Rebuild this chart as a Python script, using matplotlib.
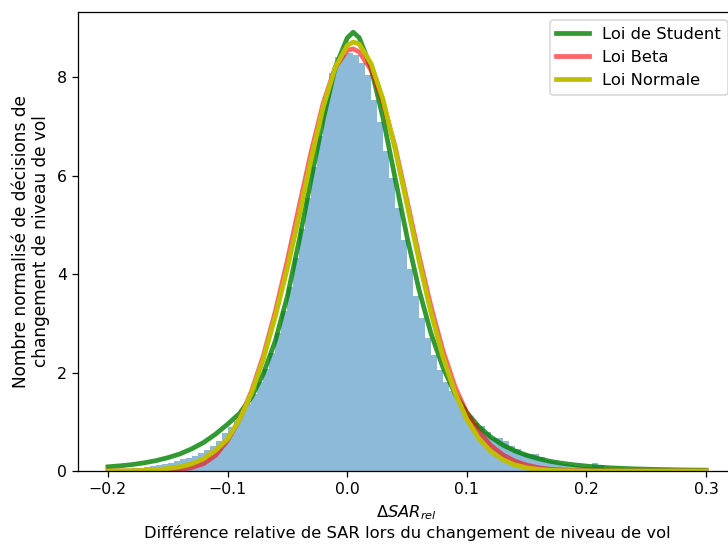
import numpy as np
import matplotlib
matplotlib.use("Agg")
import matplotlib.pyplot as plt

# Histogram: bin edges (width 0.005 from -0.2 to 0.3) and normalized heights
bin_edges = np.linspace(-0.2, 0.3, 101)
hist_heights = [
    0.04, 0.03, 0.05, 0.04, 0.06, 0.07, 0.09, 0.10, 0.12, 0.14,
    0.17, 0.20, 0.24, 0.26, 0.30, 0.37, 0.42, 0.50, 0.60, 0.78,
    0.90, 1.02, 1.18, 1.36, 1.56, 1.80, 2.08, 2.40, 2.80, 3.25,
    3.75, 4.32, 4.92, 5.55, 6.18, 6.80,
    7.60, 8.10, 8.42, 8.45, 8.50, 8.45, 8.30, 8.05, 7.55, 7.10,
    6.50, 5.95, 5.35, 4.70, 4.10, 3.55, 3.10, 2.70, 2.35,
    2.05, 1.80, 1.62, 1.48, 1.30, 1.12, 0.98, 0.92, 0.80, 0.68,
    0.67, 0.60, 0.50, 0.44, 0.37, 0.35, 0.34, 0.28, 0.23, 0.20,
    0.17, 0.14, 0.12, 0.10, 0.09, 0.08, 0.17, 0.12, 0.06, 0.05,
    0.04, 0.03, 0.03, 0.02, 0.02, 0.02, 0.01, 0.01, 0.01, 0.01,
    0.01, 0.0, 0.0, 0.0, 0.0,
]
bin_centers = (bin_edges[:-1] + bin_edges[1:]) / 2

# Fitted curves, read at these x positions
curve_x = [-0.20, -0.19, -0.18, -0.17, -0.16, -0.15, -0.14, -0.13, -0.12, -0.11,
           -0.10, -0.09, -0.08, -0.07, -0.06, -0.05, -0.04, -0.03, -0.02, -0.01,
           0.00, 0.005, 0.01, 0.02, 0.03, 0.04, 0.05, 0.06, 0.07, 0.08, 0.09,
           0.10, 0.11, 0.12, 0.13, 0.14, 0.15, 0.16, 0.17, 0.18, 0.19,
           0.20, 0.21, 0.22, 0.23, 0.24, 0.25, 0.26, 0.27, 0.28, 0.29, 0.30]
student_y = [0.085, 0.105, 0.13, 0.165, 0.21, 0.27, 0.345, 0.45, 0.58, 0.75,
             0.95, 1.17, 1.50, 1.98, 2.65, 3.55, 4.70, 5.95, 7.15, 8.20,
             8.80, 8.92, 8.81, 8.19, 7.17, 5.96, 4.76, 3.69, 2.80, 2.11, 1.58,
             1.19, 0.90, 0.69, 0.53, 0.41, 0.32, 0.25, 0.195, 0.155, 0.125,
             0.10, 0.08, 0.065, 0.053, 0.044, 0.037, 0.031, 0.026, 0.022, 0.019, 0.017]
beta_y = [0.0, 0.0, 0.0, 0.002, 0.005, 0.01, 0.03, 0.07, 0.15, 0.32,
          0.62, 1.05, 1.62, 2.35, 3.25, 4.28, 5.40, 6.50, 7.48, 8.20,
          8.55, 8.58, 8.52, 8.15, 7.48, 6.60, 5.50, 4.38, 3.35, 2.45, 1.72,
          1.18, 0.80, 0.52, 0.33, 0.20, 0.12, 0.065, 0.035, 0.02, 0.01,
          0.005, 0.003, 0.002, 0.001, 0.0, 0.0, 0.0, 0.0, 0.0, 0.0, 0.0]
normal_y = [0.001, 0.002, 0.005, 0.012, 0.025, 0.05, 0.085, 0.145, 0.25, 0.42,
            0.65, 1.05, 1.58, 2.28, 3.15, 4.12, 5.20, 6.35, 7.40, 8.20,
            8.65, 8.72, 8.68, 8.28, 7.55, 6.55, 5.42, 4.28, 3.22, 2.32, 1.60,
            1.05, 0.66, 0.40, 0.23, 0.125, 0.065, 0.031, 0.015, 0.007, 0.003,
            0.001, 0.0, 0.0, 0.0, 0.0, 0.0, 0.0, 0.0, 0.0, 0.0, 0.0]

fig = plt.figure(figsize=(6.4, 4.8), dpi=113.75)
ax = fig.add_axes([78 / 728, 75 / 546, 658 / 728, 459 / 546])

ax.hist(bin_centers, bins=bin_edges, weights=hist_heights, alpha=0.5)
ax.plot(curve_x, student_y, color='g', lw=3, alpha=0.8, label='Loi de Student')
ax.plot(curve_x, beta_y, color='r', lw=3, alpha=0.6, label='Loi Beta')
ax.plot(curve_x, normal_y, color='y', lw=3, alpha=1.0, label='Loi Normale')

ax.set_xlim(-0.225, 0.325)
ax.set_ylim(0, 9.33)
ax.set_yticks([0, 2, 4, 6, 8])
ax.set_xlabel('$\\Delta SAR_{rel}$\nDifférence relative de SAR lors du changement de niveau de vol',
              fontsize=10.35)
ax.set_ylabel('Nombre normalisé de décisions de\nchangement de niveau de vol', fontsize=10.8)
ax.legend(loc='upper right', fontsize=10.4)

fig.savefig('out.png', dpi=113.75)
